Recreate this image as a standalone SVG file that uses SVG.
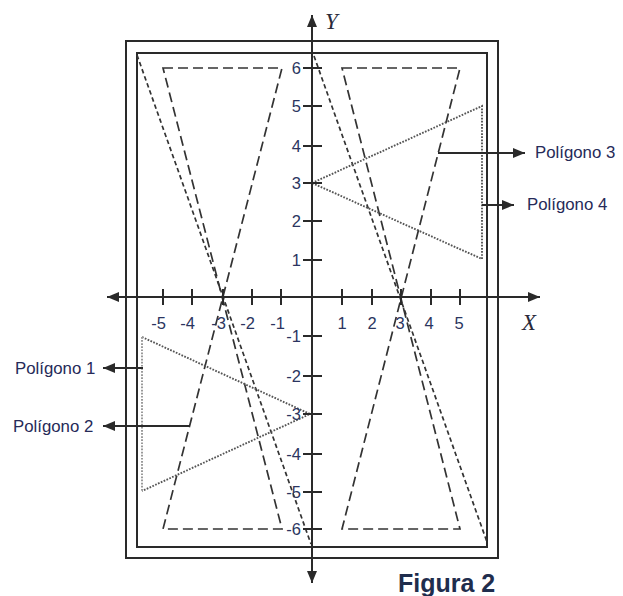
<svg xmlns="http://www.w3.org/2000/svg" width="623" height="596" viewBox="0 0 623 596">
<style>
.frame{fill:none;stroke:#2a2a2a;stroke-width:2}
.axis{stroke:#2a2a2a;stroke-width:2;fill:none}
.tick{stroke:#2a2a2a;stroke-width:2}
.ldash{fill:none;stroke:#333;stroke-width:1.7;stroke-dasharray:10 5}
.sdash{fill:none;stroke:#333;stroke-width:1.7;stroke-dasharray:4.5 3}
.dot{fill:none;stroke:#555;stroke-width:1.9;stroke-dasharray:1.7 1.4}
.dotl{fill:none;stroke:#9a9a9a;stroke-width:2;stroke-dasharray:1.7 1.4}
.ptr{stroke:#2a2a2a;stroke-width:2;fill:none}
.num{font-family:"Liberation Sans",Arial,sans-serif;font-size:16.5px;fill:#2b3560}
.lbl{font-family:"Liberation Sans",Arial,sans-serif;font-size:16.8px;fill:#262a58}
.axl{font-family:"Liberation Serif","Times New Roman",serif;font-style:italic;font-size:23px;fill:#2a2a3a}
.fig{font-family:"Liberation Sans",Arial,sans-serif;font-weight:bold;font-size:25px;fill:#1f2d4d}
</style>
<defs>
<marker id="ah" viewBox="0 0 12 10" refX="12" refY="5" markerWidth="12" markerHeight="10" markerUnits="userSpaceOnUse" orient="auto-start-reverse">
<path d="M0,0 L12,5 L0,10 Z" fill="#2a2a2a"/>
</marker>
</defs>
<g id="frames">
<rect class="frame" x="126" y="41" width="372" height="517"/>
<rect class="frame" x="137" y="53" width="350" height="494"/>
</g>
<g id="shapes">
<polygon id="bowtie-left" class="ldash" points="163,68 282,68 163,529 282,529"/>
<polygon id="bowtie-right" class="ldash" points="342,68 460,68 342,529 460,529"/>
<line id="line-left" class="sdash" x1="137" y1="55" x2="311" y2="544"/>
<line id="line-right" class="sdash" x1="314" y1="56" x2="487" y2="542"/>
<polygon id="tri-right" class="dot" points="312,183 482,106 482,259"/>
<polyline id="tri-left" class="dot" points="142,337 310,414 142,491"/>
<line class="dotl" x1="142" y1="337" x2="142" y2="491"/>
</g>
<g id="axes">
<line class="axis" x1="312" y1="583" x2="312" y2="15" marker-start="url(#ah)" marker-end="url(#ah)"/>
<line class="axis" x1="107" y1="297" x2="540" y2="297" marker-start="url(#ah)" marker-end="url(#ah)"/>
<text class="axl" x="325" y="29">Y</text>
<text class="axl" x="522" y="330">X</text>
</g>
<g id="ticks">
<path class="tick" d="M163,289V305M192,289V305M223,289V305M252,289V305M281,289V305M342,289V305M372,289V305M401,289V305M431,289V305M460,289V305"/>
<path class="tick" d="M303,68H322M303,106H322M303,146H322M303,183H322M303,221H322M303,260H322M303,336H322M303,376H322M303,414H322M303,454H322M303,492H322M303,529H322"/>
</g>
<g id="tick-labels">
<g class="num" text-anchor="end">
<text x="166" y="329">-5</text>
<text x="195" y="329">-4</text>
<text x="226" y="329">-3</text>
<text x="255" y="329">-2</text>
<text x="285" y="329">-1</text>
</g>
<g class="num" text-anchor="middle">
<text x="342" y="329">1</text>
<text x="372" y="329">2</text>
<text x="400" y="329">3</text>
<text x="429" y="329">4</text>
<text x="459" y="329">5</text>
</g>
<g class="num" text-anchor="end">
<text x="301" y="74">6</text>
<text x="301" y="112">5</text>
<text x="301" y="152">4</text>
<text x="301" y="189">3</text>
<text x="301" y="227">2</text>
<text x="301" y="266">1</text>
<text x="301" y="342">-1</text>
<text x="301" y="382">-2</text>
<text x="301" y="420">-3</text>
<text x="301" y="460">-4</text>
<text x="301" y="498">-5</text>
<text x="301" y="535">-6</text>
</g>
</g>
<g id="connectors">
<line class="ptr" x1="438" y1="153" x2="525" y2="153" marker-end="url(#ah)"/>
<line class="ptr" x1="482" y1="205" x2="514" y2="205" marker-end="url(#ah)"/>
<line class="ptr" x1="143" y1="368" x2="103" y2="368" marker-end="url(#ah)"/>
<line class="ptr" x1="190" y1="426" x2="103" y2="426" marker-end="url(#ah)"/>
</g>
<g id="label-p3"><text class="lbl" x="535" y="158">Polígono 3</text></g>
<g id="label-p4"><text class="lbl" x="527" y="210">Polígono 4</text></g>
<g id="label-p1"><text class="lbl" x="15" y="374">Polígono 1</text></g>
<g id="label-p2"><text class="lbl" x="13" y="432">Polígono 2</text></g>
<g id="caption"><text class="fig" x="398" y="592">Figura 2</text></g>
</svg>
